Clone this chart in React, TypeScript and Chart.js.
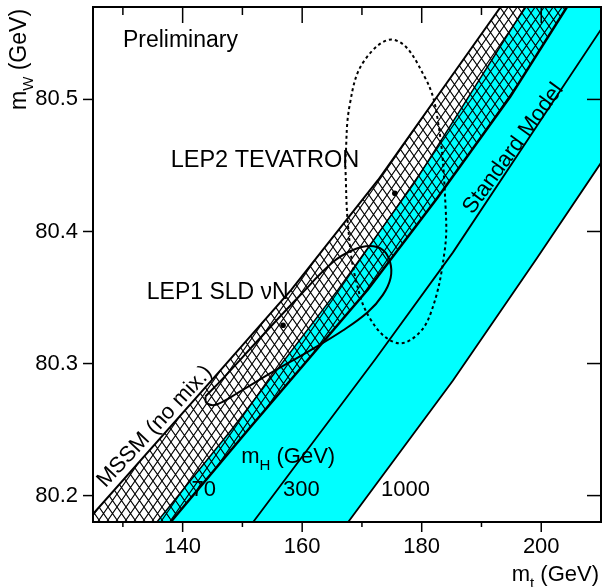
import React, { useEffect, useRef } from "react";
import { Chart, registerables } from "chart.js";

Chart.register(...registerables);

// ---- axes ----
const MT_MIN = 125;
const MT_MAX = 210;
const MW_MIN = 80.18;
const MW_MAX = 80.57;
const MT_MAJOR = [140, 160, 180, 200];
const MT_MINOR = [130, 150, 170, 190];
const MW_MAJOR = [80.2, 80.3, 80.4, 80.5];

// ---- band edges (mt, mW) ----
// MSSM (no mix.) upper edge
const mssmUpperMt = [125.0, 144.8, 158.2, 172.7, 193.2];
const mssmUpperMw = [80.186, 80.287, 80.356, 80.439, 80.57];
// SM band upper edge (start of cyan)
const smUpperMt = [135.7, 148.2, 166.0, 178.8, 197.3];
const smUpperMw = [80.18, 80.25, 80.356, 80.437, 80.57];
// mH = 70 GeV line (MSSM lower edge)
const mh70Mt = [138.0, 151.0, 171.0, 182.7, 194.8, 204.3];
const mh70Mw = [80.18, 80.25, 80.356, 80.426, 80.502, 80.57];
// mH = 300 GeV line
const mh300Mt = [151.8, 172.2, 185.2, 210.0];
const mh300Mw = [80.18, 80.303, 80.384, 80.553];
// mH = 1000 GeV line (SM lower edge)
const mh1000Mt = [167.7, 185.2, 199.3, 210.0];
const mh1000Mw = [80.18, 80.287, 80.38, 80.452];

// ---- contours ----
const lep1Mt = [143.8, 146.8, 152.7, 159.3, 165.2, 168.5, 171.3, 173.5, 174.7, 174.8, 173.5, 171.0, 166.8, 161.0, 155.2, 149.3, 145.7, 144.0, 143.8];
const lep1Mw = [80.275, 80.289, 80.318, 80.35, 80.377, 80.386, 80.389, 80.386, 80.377, 80.365, 80.352, 80.339, 80.325, 80.309, 80.294, 80.278, 80.269, 80.27, 80.275];
const tevMt = [167.2, 168.0, 170.5, 175.5, 180.5, 182.7, 184.0, 183.8, 181.5, 178.8, 175.5, 171.5, 169.0, 167.7, 167.2];
const tevMw = [80.452, 80.497, 80.53, 80.545, 80.517, 80.484, 80.418, 80.384, 80.338, 80.32, 80.316, 80.333, 80.363, 80.403, 80.452];
// central values
const centralMt = [156.8, 175.5];
const centralMw = [80.329, 80.429];

// ---- text labels ----
const labelText = ["Preliminary", "LEP2 TEVATRON", "LEP1 SLD \u03bdN", "70", "300", "1000", "MSSM (no mix.)", "Standard Model"];
const labelMt = [130.0, 138.0, 134.0, 141.5, 156.8, 173.2, 127.1, 188.5];
const labelMw = [80.54, 80.449, 80.349, 80.2, 80.2, 80.2, 80.2055, 80.4125];
const labelAngle = [0, 0, 0, 0, 0, 0, -47, -54];
const labelSize = [23, 23.5, 23, 22, 22, 22, 22, 22];
const mhLabelMt = 149.8;
const mhLabelMw = 80.225;

const FAMILY = '"Liberation Sans", Arial, Helvetica, sans-serif';
const MAIN = 22;
const SUB = 15;
const fnt = (s: number) => `${s}px ${FAMILY}`;

const pts = (xs: number[], ys: number[]) => xs.map((x, i) => ({ x, y: ys[i] }));

function drawRich(ctx: CanvasRenderingContext2D, parts: [string, boolean][], x: number, y: number, angle: number, alignRight = false, size = MAIN) {
  ctx.save();
  let total = 0;
  for (const [t, sub] of parts) {
    ctx.font = fnt(sub ? SUB : size);
    total += ctx.measureText(t).width;
  }
  ctx.translate(x, y);
  ctx.rotate(angle);
  ctx.textAlign = "left";
  ctx.textBaseline = "alphabetic";
  let cx = alignRight ? -total : 0;
  for (const [t, sub] of parts) {
    ctx.font = fnt(sub ? SUB : size);
    ctx.fillText(t, cx, sub ? 7 : 0);
    cx += ctx.measureText(t).width;
  }
  ctx.restore();
}

const decorPlugin = {
  id: "decor",
  afterDatasetsDraw(chart: any) {
    const { ctx, chartArea: a, scales } = chart;
    const x = scales.x;
    const y = scales.y;
    ctx.save();
    ctx.strokeStyle = "#000";
    ctx.lineWidth = 1.5;
    const seg = (x1: number, y1: number, x2: number, y2: number) => {
      ctx.beginPath();
      ctx.moveTo(x1, y1);
      ctx.lineTo(x2, y2);
      ctx.stroke();
    };
    for (const v of MT_MAJOR) {
      const px = x.getPixelForValue(v);
      seg(px, a.bottom, px, a.bottom + 10);
      seg(px, a.top, px, a.top + 16);
    }
    for (const v of MT_MINOR) {
      const px = x.getPixelForValue(v);
      seg(px, a.bottom, px, a.bottom + 5);
      seg(px, a.top, px, a.top + 8);
    }
    for (const v of MW_MAJOR) {
      const py = y.getPixelForValue(v);
      seg(a.left - 10, py, a.left, py);
      seg(a.right - 14, py, a.right, py);
    }
    ctx.lineWidth = 2;
    ctx.strokeRect(a.left, a.top, a.right - a.left, a.bottom - a.top);
    ctx.restore();
  },
  afterDraw(chart: any) {
    const { ctx, chartArea: a, scales } = chart;
    const x = scales.x;
    const y = scales.y;
    ctx.save();
    ctx.fillStyle = "#000";
    for (let i = 0; i < labelText.length; i++) {
      drawRich(ctx, [[labelText[i], false]], x.getPixelForValue(labelMt[i]), y.getPixelForValue(labelMw[i]), (labelAngle[i] * Math.PI) / 180, false, labelSize[i]);
    }
    drawRich(ctx, [["m", false], ["H", true], [" (GeV)", false]], x.getPixelForValue(mhLabelMt), y.getPixelForValue(mhLabelMw), 0);
    // axis titles
    drawRich(ctx, [["m", false], ["t", true], [" (GeV)", false]], a.right - 2, chart.height - 6, 0, true);
    drawRich(ctx, [["m", false], ["W", true], [" (GeV)", false]], a.left - 67, a.top + 103, -Math.PI / 2, false, 23);
    ctx.restore();
  },
};

export default function App() {
  const ref = useRef<HTMLCanvasElement>(null);

  useEffect(() => {
    const canvas = ref.current!;
    const pc = document.createElement("canvas");
    pc.width = 9;
    pc.height = 13;
    const p = pc.getContext("2d")!;
    p.strokeStyle = "#000";
    p.lineWidth = 1.1;
    p.beginPath();
    p.moveTo(0, 0);
    p.lineTo(9, 13);
    p.moveTo(9, 0);
    p.lineTo(0, 13);
    p.stroke();
    const hatch = canvas.getContext("2d")!.createPattern(pc, "repeat");

    const mssmUpper = pts(mssmUpperMt, mssmUpperMw);
    const smUpper = pts(smUpperMt, smUpperMw);
    const mh70 = pts(mh70Mt, mh70Mw);
    const mh300 = pts(mh300Mt, mh300Mw);
    const mh1000 = pts(mh1000Mt, mh1000Mw);

    const lineDs = (data: any[], width: number, dash: number[] = [], tension = 0) => ({
      data,
      borderColor: "#000",
      borderWidth: width,
      borderDash: dash,
      pointRadius: 0,
      fill: false,
      tension,
    });
    const helper = (data: any[], fill: any, bg: any) => ({
      data,
      borderColor: "rgba(0,0,0,0)",
      borderWidth: 1,
      pointRadius: 0,
      fill,
      backgroundColor: bg,
      tension: 0,
    });

    const chart = new Chart(canvas, {
      type: "line",
      data: {
        datasets: [
          {
            data: pts(centralMt, centralMw),
            showLine: false,
            pointRadius: 2.8,
            pointBorderWidth: 0,
            pointBackgroundColor: "#000",
          } as any,
          lineDs(pts(lep1Mt, lep1Mw), 2, [], 0.4),
          lineDs(pts(tevMt, tevMw), 2, [3, 3], 0.4),
          lineDs(mssmUpper, 2),
          lineDs(mh70, 2.5),
          lineDs(smUpper, 1.5),
          lineDs(mh300, 1.8),
          lineDs(mh1000, 1.8),
          helper([...mssmUpper, { x: mh70Mt[mh70Mt.length - 1], y: MW_MAX }], "+1", hatch),
          helper([{ x: mssmUpperMt[0], y: MW_MIN }, ...mh70], false, "rgba(0,0,0,0)"),
          helper([...smUpper, { x: MT_MAX, y: MW_MAX }], "+1", "#00ffff"),
          helper([{ x: smUpperMt[0], y: MW_MIN }, ...mh1000], false, "rgba(0,0,0,0)"),
        ],
      },
      options: {
        animation: false,
        responsive: false,
        maintainAspectRatio: false,
        events: [],
        layout: { padding: { top: 7, right: 1, bottom: 0, left: 0 } },
        plugins: { legend: { display: false }, tooltip: { enabled: false } },
        scales: {
          x: {
            type: "linear",
            min: MT_MIN,
            max: MT_MAX,
            grid: { display: false, drawTicks: false },
            border: { display: false },
            afterBuildTicks: (s: any) => {
              s.ticks = MT_MAJOR.map((v) => ({ value: v }));
            },
            afterFit: (s: any) => {
              s.height = 65;
              s.paddingLeft = 0;
              s.paddingRight = 0;
              s.paddingTop = 0;
              s.paddingBottom = 0;
            },
            ticks: {
              font: { family: FAMILY, size: MAIN },
              color: "#000",
              padding: 12,
              maxRotation: 0,
              autoSkip: false,
              callback: (v: any) => String(v),
            },
          },
          y: {
            type: "linear",
            min: MW_MIN,
            max: MW_MAX,
            grid: { display: false, drawTicks: false },
            border: { display: false },
            afterBuildTicks: (s: any) => {
              s.ticks = MW_MAJOR.map((v) => ({ value: v }));
            },
            afterFit: (s: any) => {
              s.width = 93;
              s.paddingLeft = 0;
              s.paddingRight = 0;
              s.paddingTop = 0;
              s.paddingBottom = 0;
            },
            ticks: {
              font: { family: FAMILY, size: MAIN },
              color: "#000",
              padding: 15,
              callback: (v: any) => Number(v).toFixed(1),
            },
          },
        },
      },
      plugins: [decorPlugin],
    } as any);

    return () => chart.destroy();
  }, []);

  return (
    <div style={{ position: "absolute", left: 0, top: 0, width: 605, height: 587, background: "#fff" }}>
      <canvas ref={ref} width={605} height={587} style={{ display: "block", width: 605, height: 587 }} />
    </div>
  );
}
